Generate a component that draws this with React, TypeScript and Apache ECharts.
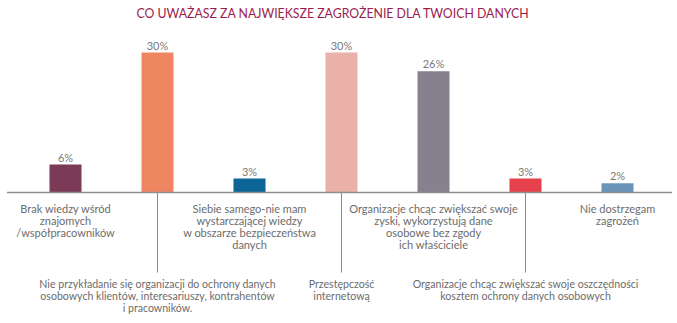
import React, { useEffect, useRef } from "react";
import * as echarts from "echarts";

const TITLE = "CO UWAŻASZ ZA NAJWIĘKSZE ZAGROŻENIE DLA TWOICH DANYCH";

const categories = [
  "Brak wiedzy wśród\nznajomych\n/współpracowników",
  "Nie przykładanie się organizacji do ochrony danych\nosobowych klientów, interesariuszy, kontrahentów\ni pracowników.",
  "Siebie samego-nie mam\nwystarczającej wiedzy\nw obszarze bezpieczeństwa\ndanych",
  "Przestępczość\ninternetową",
  "Organizacje chcąc zwiększać swoje\nzyski, wykorzystują dane\nosobowe bez zgody\nich właściciele",
  "Organizacje chcąc zwiększać swoje oszczędności\nkosztem ochrony danych osobowych",
  "Nie dostrzegam\nzagrożeń",
];

const values = [6, 30, 3, 30, 26, 3, 2];

const barColors = [
  "#7b3b56",
  "#ef8662",
  "#0b6596",
  "#e9b1a8",
  "#86808f",
  "#e5404b",
  "#6b94b9",
];

const FONT = "Lato";
const TEXT_GRAY = "#6c6c6c";

export default function App() {
  const ref = useRef<HTMLDivElement>(null);

  useEffect(() => {
    if (!ref.current) return;
    const chart = echarts.init(ref.current, null, { renderer: "svg" });

    const gridLeft = 19.5;
    const gridTop = 52.5;
    const gridHeight = 140;
    const gridWidth = 644;
    const axisY = gridTop + gridHeight;

    chart.setOption({
      animation: false,
      backgroundColor: "#ffffff",
      grid: {
        left: gridLeft,
        top: gridTop,
        width: gridWidth,
        height: gridHeight,
      },
      xAxis: [
        {
          type: "category",
          data: categories,
          position: "bottom",
          axisLine: { show: false },
          axisTick: { show: false },
          axisLabel: {
            interval: (i: number) => i % 2 === 0,
            margin: 10,
            fontFamily: FONT,
            fontSize: 11,
            lineHeight: 12,
            color: TEXT_GRAY,
            align: "center",
          },
        },
        {
          type: "category",
          data: categories,
          position: "bottom",
          axisLine: { show: false },
          axisTick: {
            show: true,
            alignWithLabel: true,
            interval: (i: number) => i % 2 === 1,
            length: 80,
            lineStyle: { color: "#8a8a8a", width: 1 },
          },
          axisLabel: {
            interval: (i: number) => i % 2 === 1,
            margin: 85,
            fontFamily: FONT,
            fontSize: 10.6,
            lineHeight: 12,
            color: TEXT_GRAY,
            align: "center",
          },
        },
      ],
      yAxis: {
        type: "value",
        min: 0,
        max: 30,
        show: false,
        splitLine: { show: false },
      },
      graphic: [
        {
          type: "text",
          x: 332.5,
          y: 12.5,
          scaleX: 0.88,
          style: {
            text: TITLE,
            fontFamily: FONT,
            fontSize: 14,
            fill: "#9b1c4c",
            textAlign: "center",
            textVerticalAlign: "middle",
          },
        },
        {
          type: "line",
          shape: { x1: 7, y1: axisY, x2: 672, y2: axisY },
          style: { stroke: "#8f8f8f", lineWidth: 1.5 },
          z: 10,
        },
      ],
      series: [
        {
          type: "bar",
          xAxisIndex: 0,
          barWidth: 32,
          data: values.map((v, i) => ({
            value: v,
            itemStyle: { color: barColors[i] },
          })),
          label: {
            show: true,
            position: "top",
            distance: 2,
            formatter: "{c}%",
            fontFamily: FONT,
            fontSize: 11,
            color: "#7a7a7a",
          },
        },
      ],
    });

    return () => chart.dispose();
  }, []);

  return (
    <div
      ref={ref}
      style={{ position: "fixed", left: 0, top: 0, width: 677, height: 323 }}
    />
  );
}
